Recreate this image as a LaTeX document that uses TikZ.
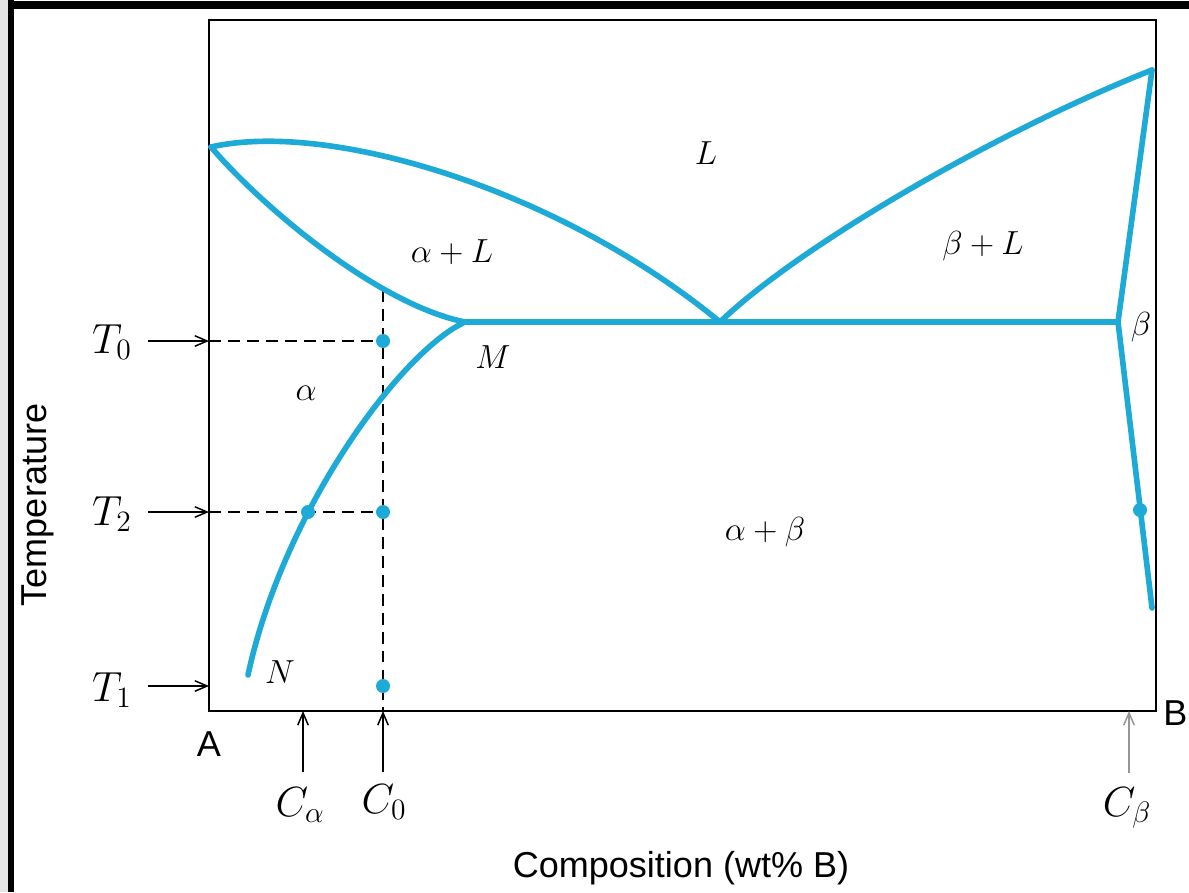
\RequirePackage{fix-cm}
\documentclass[tikz,border=0pt]{standalone}
\usepackage{fontspec}
\newfontfamily\sansf{Liberation Sans}
\usetikzlibrary{arrows.meta}
\definecolor{phase}{RGB}{30,170,215}
\definecolor{lightarrow}{RGB}{150,150,150}
\begin{document}
\begin{tikzpicture}[x=0.02cm,y=-0.02cm,
  phaseline/.style={draw=phase,line width=3.2pt,line join=round,line cap=round},
  box/.style={draw=black,line width=1.1pt},
  guide/.style={draw=black,line width=0.85pt,dash pattern=on 6.8pt off 4pt},
  ptr/.style={draw=black,line width=0.85pt,-{Straight Barb[length=7pt,width=6pt]}},
  dot/.style={circle,fill=phase,inner sep=0pt,minimum size=0.28cm},
  lab/.style={font=\fontsize{19}{22}\selectfont,inner sep=0pt},
  tlab/.style={font=\fontsize{24}{28}\selectfont,inner sep=0pt},
  slab/.style={font=\sansf\fontsize{20.5}{24}\selectfont,inner sep=0pt}
]
\useasboundingbox (0,0) rectangle (1189,892);
% outer frame
\fill[gray!20] (0,0) rectangle (8,892);
\fill[black] (8,0) rectangle (14,892);
\fill[black] (8,1) rectangle (1189,9);

% plot box
\draw[box] (209,20) rectangle (1156,711);

% key points
\coordinate (Am) at (211,147);
\coordinate (E) at (720,322);
\coordinate (M) at (465,322);
\coordinate (Bm) at (1152,70);
\coordinate (Pb) at (1118,322);
\coordinate (Nend) at (248,675);
\coordinate (Sv) at (1152,608);

% guide lines
\coordinate (C0top) at (383,290);
\coordinate (C0bot) at (383,711);
\coordinate (T0L) at (209,341);
\coordinate (T2L) at (209,512);
\draw[guide] (C0top) -- (C0bot);
\draw[guide] (T0L) -- (383,341);
\draw[guide] (T2L) -- (383,512);

% phase boundaries
\draw[phaseline] (Am) .. controls (330,120) and (560,190) .. (E);
\draw[phaseline] (Am) .. controls (265,210) and (380,305) .. (M);
\draw[phaseline] (M) -- (Pb);
\draw[phaseline] (M) .. controls (400,352) and (283,512) .. (Nend);
\draw[phaseline] (E) .. controls (800,245) and (1000,130) .. (Bm);
\draw[phaseline] (Bm) -- (Pb);
\draw[phaseline] (Pb) -- (Sv);

% dots
\node[dot] (d1) at (383,341) {};
\node[dot] (d2) at (308,512) {};
\node[dot] (d3) at (383,512) {};
\node[dot] (d4) at (383,686) {};
\node[dot] (d5) at (1140,510) {};

% temperature arrows
\node[tlab] (T0) at (112,342) {$T_0$};
\node[tlab] (T2) at (112,514) {$T_2$};
\node[tlab] (T1) at (112,690) {$T_1$};
\coordinate (T0a) at (148,341);
\coordinate (T2a) at (148,512);
\coordinate (T1a) at (148,686);
\coordinate (T1L) at (209,686);
\draw[ptr] (T0a) -- (T0L);
\draw[ptr] (T2a) -- (T2L);
\draw[ptr] (T1a) -- (T1L);

% composition arrows
\node[tlab] (Ca) at (300,805) {$C_\alpha$};
\node[tlab] (C0) at (384,802) {$C_0$};
\node[tlab] (Cb) at (1127,808) {$C_\beta$};
\coordinate (Cat) at (303,772);
\coordinate (Cab) at (303,711);
\coordinate (C0t) at (383,772);
\coordinate (Cbt) at (1129,773);
\coordinate (Cbb) at (1129,711);
\draw[ptr] (Cat) -- (Cab);
\draw[ptr] (C0t) -- (C0bot);
\draw[ptr,draw=lightarrow] (Cbt) -- (Cbb);

% region labels
\node[lab] (lL) at (706,153) {$L$};
\node[lab] (laL) at (452,252) {$\alpha+L$};
\node[lab] (lbL) at (983,246) {$\beta+L$};
\node[lab] (lb) at (1141,327) {$\beta$};
\node[lab] (lM) at (493,357) {$M$};
\node[lab] (la) at (306,393) {$\alpha$};
\node[lab] (lab) at (765,532) {$\alpha+\beta$};
\node[lab] (lN) at (280,672) {$N$};

% axis labels
\node[slab] (A) at (209,744) {A};
\node[slab,anchor=west] (B) at (1163,713) {B};
\node[slab] (comp) at (681,868) {Composition (wt\% B)};
\node[slab,rotate=90] (temp) at (38,505) {Temperature};
\end{tikzpicture}
\end{document}
